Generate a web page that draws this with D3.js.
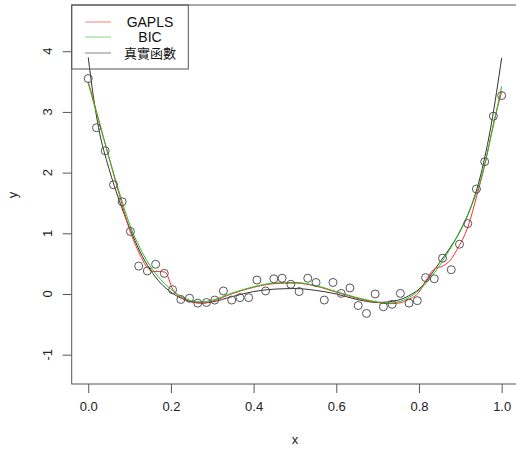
<!DOCTYPE html>
<html><head><meta charset="utf-8">
<script src="https://cdn.jsdelivr.net/npm/d3@7"></script>
<style>body{margin:0;background:#fff}svg{display:block}</style></head>
<body>
<svg id="c" width="516" height="462"></svg>
<script>
// ---- data ----
const ptX = [0,0.020,0.041,0.061,0.082,0.102,0.122,0.143,0.163,0.184,0.204,0.224,0.245,0.265,0.286,0.306,0.327,0.347,0.367,0.388,0.408,0.429,0.449,0.469,0.490,0.510,0.531,0.551,0.571,0.592,0.612,0.633,0.653,0.673,0.694,0.714,0.735,0.755,0.776,0.796,0.816,0.837,0.857,0.878,0.898,0.918,0.939,0.959,0.980,1.000];
const ptY = [3.55,2.74,2.36,1.80,1.52,1.03,0.46,0.38,0.49,0.34,0.07,-0.09,-0.07,-0.15,-0.14,-0.10,0.05,-0.10,-0.06,-0.06,0.23,0.05,0.25,0.26,0.16,0.04,0.26,0.19,-0.10,0.19,0.01,0.10,-0.19,-0.32,0.00,-0.21,-0.17,0.01,-0.15,-0.11,0.27,0.25,0.59,0.40,0.82,1.16,1.73,2.18,2.93,3.27];

const trueX = [0,0.0125,0.025,0.05,0.075,0.1,0.125,0.15,0.175,0.2,0.225,0.25,0.275,0.3,0.35,0.4,0.45,0.5,0.55,0.6,0.65,0.7,0.75,0.775,0.8,0.825,0.85,0.875,0.9,0.925,0.95,0.975,1];
const trueY = [3.90,3.25,2.74,2.07,1.54,1.09,0.70,0.40,0.18,0.03,-0.07,-0.13,-0.15,-0.13,-0.04,0.04,0.08,0.09,0.06,0.00,-0.09,-0.14,-0.10,-0.03,0.08,0.28,0.52,0.76,1.04,1.42,1.98,2.80,3.89];

const bicX = [0,0.025,0.05,0.075,0.1,0.125,0.15,0.175,0.2,0.225,0.25,0.275,0.3,0.35,0.4,0.45,0.5,0.55,0.6,0.65,0.7,0.725,0.75,0.775,0.8,0.825,0.85,0.875,0.9,0.925,0.95,0.975,1];
const bicY = [3.47,2.86,2.26,1.68,1.15,0.76,0.46,0.24,0.08,-0.04,-0.11,-0.13,-0.10,0.02,0.12,0.18,0.19,0.14,0.04,-0.06,-0.13,-0.15,-0.13,-0.06,0.06,0.24,0.47,0.74,1.05,1.42,1.90,2.62,3.42];

const gaplsX = [0,0.025,0.05,0.075,0.1,0.125,0.14,0.157,0.172,0.186,0.205,0.23,0.25,0.275,0.3,0.35,0.4,0.45,0.5,0.55,0.6,0.65,0.7,0.725,0.75,0.775,0.8,0.815,0.835,0.86,0.875,0.891,0.919,0.94,0.96,0.98,1];
const gaplsY = [3.50,2.88,2.25,1.64,1.06,0.65,0.46,0.37,0.37,0.36,0.07,-0.08,-0.13,-0.15,-0.12,0.01,0.11,0.17,0.18,0.13,0.03,-0.07,-0.14,-0.16,-0.15,-0.09,0.03,0.20,0.40,0.47,0.55,0.72,1.12,1.62,2.15,2.80,3.33];

const xTicks = [0, 0.2, 0.4, 0.6, 0.8, 1.0];
const xTickLabels = ["0.0","0.2","0.4","0.6","0.8","1.0"];
const yTicks = [-1, 0, 1, 2, 3, 4];
const yTickLabels = ["-1","0","1","2","3","4"];
const legendLabels = ["GAPLS","BIC","真實函數"];
const legendColors = ["#ff2a2a","#22c322","#333333"];

// ---- layout ----
const svg = d3.select("#c");
const L = 71.7, R = 518.2, T = 5, B = 384;
const x = d3.scaleLinear().domain([-0.04, 1.04]).range([L, R]);
const y = d3.scaleLinear().domain([-1.483, 4.762]).range([B, T]);
const font = "'Liberation Sans', Arial, Helvetica, sans-serif";
const cjkFont = "'Liberation Sans', 'Noto Sans CJK TC', sans-serif";
const axisCol = "#555";

// curves
const line = (xs, ys) => d3.line().x((d,i)=>x(xs[i])).y((d,i)=>y(ys[i])).curve(d3.curveMonotoneX)(ys);
const curves = [
  {xs: trueX, ys: trueY, col: legendColors[2]},
  {xs: gaplsX, ys: gaplsY, col: legendColors[0]},
  {xs: bicX, ys: bicY, col: legendColors[1]}
];
svg.append("clipPath").attr("id","pc").append("rect")
  .attr("x", L).attr("y", T).attr("width", R-L).attr("height", B-T);
const gp = svg.append("g").attr("clip-path","url(#pc)");
curves.forEach(c => gp.append("path").attr("d", line(c.xs, c.ys))
  .attr("fill","none").attr("stroke", c.col).attr("stroke-width", 1));

// points
gp.selectAll("circle").data(ptY).enter().append("circle")
  .attr("cx", (d,i)=>x(ptX[i])).attr("cy", d=>y(d)).attr("r", 4)
  .attr("fill","none").attr("stroke","#555").attr("stroke-width",1);

// box
svg.append("rect").attr("x", L).attr("y", T).attr("width", R-L).attr("height", B-T)
  .attr("fill","none").attr("stroke", axisCol).attr("stroke-width",1);

// x axis
const gx = svg.append("g").attr("transform",`translate(0,${B})`)
  .call(d3.axisBottom(x).tickValues(xTicks).tickSize(9).tickFormat((d,i)=>xTickLabels[i]).tickPadding(9));
gx.select(".domain").remove();
gx.selectAll("line").attr("stroke", axisCol);
gx.selectAll("text").attr("font-family", font).attr("font-size", 13).attr("fill","#222");

// y axis
const gy = svg.append("g").attr("transform",`translate(${L},0)`)
  .call(d3.axisLeft(y).tickValues(yTicks).tickSize(9).tickFormat(""));
gy.select(".domain").remove();
gy.selectAll("line").attr("stroke", axisCol);
svg.selectAll(".ylab").data(yTicks).enter().append("text")
  .attr("transform", d => `translate(52,${y(d)}) rotate(-90)`)
  .attr("text-anchor","middle")
  .attr("font-family", font).attr("font-size", 13).attr("fill","#222")
  .text((d,i)=>yTickLabels[i]);

// axis titles
svg.append("text").attr("x", 295).attr("y", 444).attr("text-anchor","middle")
  .attr("font-family", font).attr("font-size", 13).attr("fill","#222").text("x");
svg.append("text").attr("transform","translate(17,195) rotate(-90)").attr("text-anchor","middle")
  .attr("font-family", font).attr("font-size", 13).attr("fill","#222").text("y");

// legend
const lg = svg.append("g");
lg.append("rect").attr("x", L).attr("y", T).attr("width", 188.3 - L).attr("height", 69 - T)
  .attr("fill","none").attr("stroke", axisCol).attr("stroke-width",1);
const lys = [22, 37, 53];
const lfs = [14, 14, 13];
legendLabels.forEach((lab, i) => {
  lg.append("line").attr("x1", 85).attr("x2", 111).attr("y1", lys[i]).attr("y2", lys[i])
    .attr("stroke", legendColors[i]).attr("stroke-width", 1).attr("stroke-opacity", 0.6);
  lg.append("text").attr("x", 150).attr("y", lys[i] + 5).attr("text-anchor","middle")
    .attr("font-family", i === 2 ? cjkFont : font)
    .attr("font-size", lfs[i]).attr("fill","#111").text(lab);
});
</script>
</body></html>
